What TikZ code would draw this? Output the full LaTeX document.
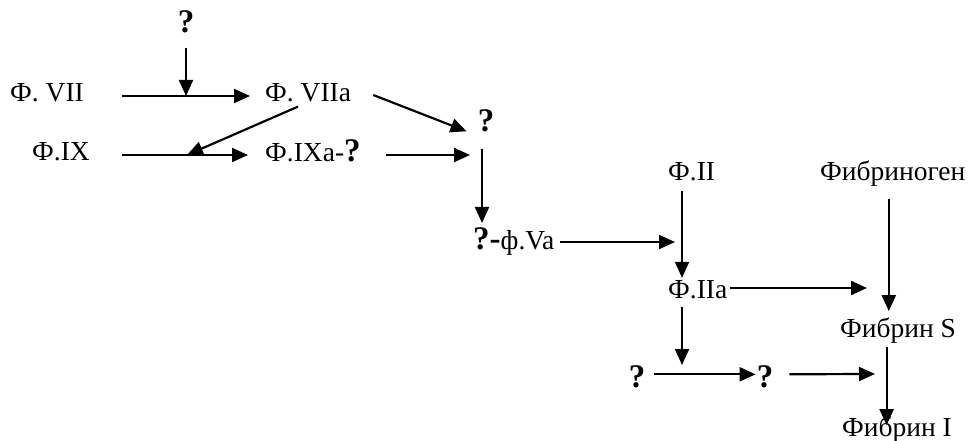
\documentclass[tikz,border=0pt]{standalone}
\usepackage{fontspec}
\setmainfont{Liberation Serif}
\usetikzlibrary{arrows.meta, calc, positioning}
\newcommand{\qm}{{\fontsize{33}{36}\selectfont\bfseries ?}}
\tikzset{
  lbl/.style={inner sep=0pt, font=\fontsize{27.5}{33}\selectfont},
  qmark/.style={inner sep=0pt, font=\fontsize{33}{36}\selectfont\bfseries},
  arr/.style={line width=2.2pt, -{Triangle[length=16pt,width=14pt]}}
}

\begin{document}
\begin{tikzpicture}[x=1pt,y=-1pt]
    \useasboundingbox (0,0) rectangle (970,441);
    % factors
    \node[qmark, anchor=base] (qtop) at (186,33) {?};
    \node[lbl, anchor=base west] (f7) at (10,102) {Ф. VII};
    \node[lbl, anchor=base west] (f7a) at (265,102) {Ф. VIIa};
    \node[qmark, anchor=base] (qr) at (486,132) {?};
    \node[lbl, anchor=base west] (f9) at (32,161) {Ф.IX};
    \node[lbl, anchor=base west] (f9a) at (265,162) {Ф.IXa-\qm};
    \node[lbl, anchor=base west] (f5a) at (473,250) {{\fontsize{33}{36}\selectfont\bfseries ?-}ф.Va};
    \node[lbl, anchor=base west] (f2) at (668,181) {Ф.II};
    \node[lbl, anchor=base west] (fg) at (820,181) {Фибриноген};
    \node[lbl, anchor=base west] (f2a) at (668,298) {Ф.IIa};
    \node[lbl, anchor=base west] (fs) at (840,337) {Фибрин S};
    \node[qmark, anchor=base] (q1) at (637,387) {?};
    \node[qmark, anchor=base] (q2) at (765,387) {?};
    \node[lbl, anchor=base west] (fi) at (842,436) {Фибрин I};
    % free ends
    \coordinate (m1) at (186,96);
    \coordinate (m2) at (187,155);
    \coordinate (m3) at (682,365);
    \coordinate (j1) at (470,155);
    \coordinate (j2) at (675,242);
    \coordinate (j3) at (867,288);
    \coordinate (j4) at (875,374);
    % arrows
    \draw[arr, shorten <=14pt] (qtop.south) -- (m1);
    \draw[arr, shorten <=38pt, shorten >=15pt] ([yshift=6pt]f7.base east) -- ([yshift=6pt]f7a.base west);
    \draw[arr] ([xshift=22pt,yshift=7pt]f7a.base east) -- ([xshift=-11pt,yshift=-10pt]qr.west);
    \draw[arr] ([xshift=33pt,yshift=-4pt]f7a.south west) -- (m2);
    \draw[arr, shorten <=32pt, shorten >=17pt] ([yshift=6pt]f9.base east) -- ([yshift=6pt]f9.base -| f9a.west);
    \draw[arr, shorten <=25pt] ([yshift=7pt]f9a.base east) -- (j1);
    \draw[arr, shorten <=16pt, shorten >=5pt] ([xshift=-4pt]qr.south) -- ([xshift=-4pt]qr.south |- f5a.north);
    \draw[arr, shorten <=5pt] ([yshift=8pt]f5a.base east) -- (j2);
    \draw[arr, shorten <=9pt, shorten >=2pt] ([xshift=14pt]f2.south west) -- ([xshift=14pt]f2a.north west);
    \draw[arr, shorten <=2pt] ([yshift=10pt]f2a.base east) -- (j3);
    \draw[arr, shorten <=12pt, shorten >=6pt] ([xshift=-4pt]fg.south) -- ([xshift=-4pt]fg.south |- fs.north);
    \draw[arr, shorten <=8pt] ([xshift=14pt]f2a.south west) -- (m3);
    \draw[arr, shorten <=9pt, shorten >=1pt] ([yshift=2pt]q1.east) -- ([yshift=2pt]q2.west);
    \draw[arr, shorten <=16pt] ([yshift=2pt]q2.east) -- (j4);
    \draw[arr, shorten <=4pt, shorten >=-9pt] ([xshift=-11.5pt]fs.south) -- ([xshift=-11.5pt]fs.south |- fi.north);
\end{tikzpicture}
\end{document}
